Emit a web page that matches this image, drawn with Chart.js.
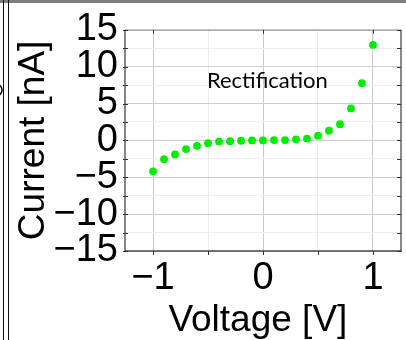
<!DOCTYPE html>
<html>
<head>
<meta charset="utf-8">
<script src="https://cdn.jsdelivr.net/npm/chart.js@4/dist/chart.umd.min.js"></script>
<style>
  html, body { margin: 0; padding: 0; background: #ffffff; }
  #wrap { width: 406px; height: 340px; position: relative; }
</style>
</head>
<body>
<div id="wrap"><canvas id="c" width="406" height="340"></canvas></div>
<script>
// ---- data ----
const voltage = [-1.0, -0.9, -0.8, -0.7, -0.6, -0.5, -0.4, -0.3, -0.2, -0.1, 0.0,
                 0.1, 0.2, 0.3, 0.4, 0.5, 0.6, 0.7, 0.8, 0.9, 1.0];
const current = [-4.2, -2.55, -1.9, -1.18, -0.73, -0.38, -0.16, -0.1, -0.05, 0, 0,
                 0.05, 0.05, 0.15, 0.25, 0.64, 1.32, 2.2, 4.33, 7.75, 12.95];
const xTickLabels = [-1, 0, 1];
const yTickLabels = [-15, -10, -5, 0, 5, 10, 15];
const annotationText = 'Rectification';
const xTitle = 'Voltage [V]';
const yTitle = 'Current [nA]';

const fmt = v => (v < 0 ? '\u2212' + Math.abs(v) : String(v));
const tickFont = { family: '"Liberation Sans", Arial, sans-serif', size: 38, lineHeight: 1.2 };
const titleFont = { family: '"Liberation Sans", Arial, sans-serif', size: 37, lineHeight: 1 };

// frame, tick marks, annotation and page decorations
const decor = {
  id: 'decor',
  beforeDraw(chart) {
    const ctx = chart.ctx;
    ctx.save();
    ctx.fillStyle = '#ffffff';
    ctx.fillRect(0, 0, chart.width, chart.height);
    ctx.restore();
  },
  afterDatasetsDraw(chart) {
    const ctx = chart.ctx;
    const a = chart.chartArea;
    const xs = chart.scales.x, ys = chart.scales.y;
    ctx.save();
    // frame top & right (light)
    ctx.strokeStyle = '#9a9a9a';
    ctx.lineWidth = 1;
    ctx.beginPath();
    ctx.moveTo(a.left, a.top + 0.5); ctx.lineTo(a.right, a.top + 0.5);
    ctx.stroke();
    ctx.lineWidth = 2;
    ctx.strokeStyle = '#8a8a8a';
    ctx.beginPath();
    ctx.moveTo(a.right, a.top); ctx.lineTo(a.right, a.bottom);
    ctx.stroke();
    // bottom & left axis (dark)
    ctx.strokeStyle = '#4a4a4a';
    ctx.lineWidth = 1.6;
    ctx.beginPath();
    ctx.moveTo(a.left, a.bottom); ctx.lineTo(a.right + 1, a.bottom);
    ctx.stroke();
    ctx.strokeStyle = '#333333';
    ctx.lineWidth = 1.2;
    ctx.beginPath();
    ctx.moveTo(a.left, a.top); ctx.lineTo(a.left, a.bottom);
    ctx.stroke();
    // x ticks
    ctx.strokeStyle = '#333333';
    ctx.lineWidth = 1;
    xs.ticks.forEach(t => {
      const px = Math.round(xs.getPixelForValue(t.value)) + 0.5;
      ctx.beginPath();
      ctx.moveTo(px, a.bottom); ctx.lineTo(px, a.bottom + 4);
      ctx.stroke();
      if (Number.isInteger(t.value)) {
        ctx.beginPath();
        ctx.moveTo(px, a.top); ctx.lineTo(px, a.top + 4);
        ctx.stroke();
      }
    });
    // y ticks
    ys.ticks.forEach(t => {
      const py = Math.round(ys.getPixelForValue(t.value)) + 0.5;
      ctx.beginPath();
      ctx.moveTo(a.left - 2, py); ctx.lineTo(a.left + 3, py);
      ctx.stroke();
      ctx.beginPath();
      ctx.moveTo(a.right - 4, py); ctx.lineTo(a.right, py);
      ctx.stroke();
    });
    // annotation
    ctx.fillStyle = '#000000';
    ctx.font = '22px Lato, "Open Sans", sans-serif';
    ctx.textAlign = 'center';
    ctx.textBaseline = 'alphabetic';
    ctx.fillText(annotationText, xs.getPixelForValue(0.04), ys.getPixelForValue(7.05));
    // page decorations (frame of the surrounding figure)
    ctx.fillStyle = '#7d7d7d';
    ctx.fillRect(0, 0, chart.width, 3);
    ctx.strokeStyle = '#111111';
    ctx.lineWidth = 1;
    ctx.beginPath();
    ctx.moveTo(3.5, 0); ctx.lineTo(3.5, chart.height);
    ctx.moveTo(8.5, 0); ctx.lineTo(8.5, chart.height);
    ctx.stroke();
    ctx.lineWidth = 1.6;
    ctx.beginPath();
    ctx.arc(-4, 90, 6, -Math.PI / 2.6, Math.PI / 2.6);
    ctx.stroke();
    ctx.restore();
  }
};

new Chart(document.getElementById('c'), {
  type: 'scatter',
  data: {
    datasets: [{
      data: voltage.map((v, i) => ({ x: v, y: current[i] })),
      backgroundColor: '#00ee00',
      borderWidth: 0,
      pointRadius: 3.9,
      pointHoverRadius: 3.9
    }]
  },
  options: {
    responsive: false,
    animation: false,
    devicePixelRatio: 1,
    layout: { padding: { top: 29, right: 5, left: 0, bottom: 0 } },
    plugins: { legend: { display: false }, tooltip: { enabled: false } },
    scales: {
      x: {
        type: 'linear',
        min: -1.255,
        max: 1.255,
        afterFit: s => { s.height = 89; },
        border: { display: false },
        grid: {
          drawTicks: false,
          color: c => (c.tick && Number.isInteger(c.tick.value)) ? '#c8c8c8' : '#ececec',
          lineWidth: 1
        },
        ticks: {
          stepSize: 0.5,
          includeBounds: false,
          autoSkip: false,
          maxRotation: 0,
          padding: 5,
          color: '#000000',
          font: tickFont,
          callback: v => xTickLabels.includes(v) ? fmt(v) : ''
        },
        title: {
          display: true,
          text: xTitle + ' ',
          color: '#000000',
          font: titleFont,
          padding: { top: 0, bottom: 1 }
        }
      },
      y: {
        type: 'linear',
        min: -15,
        max: 15,
        afterFit: s => { s.width = 125; },
        border: { display: false },
        grid: {
          drawTicks: false,
          color: c => (c.tick && c.tick.value % 5 === 0) ? '#cfcfcf' : '#eeeeee',
          lineWidth: 1
        },
        ticks: {
          stepSize: 2.5,
          autoSkip: false,
          padding: 7,
          color: '#000000',
          font: tickFont,
          callback: v => yTickLabels.includes(v) ? fmt(v) : ''
        },
        title: {
          display: true,
          text: yTitle,
          color: '#000000',
          font: titleFont,
          padding: { top: 15.5, bottom: 0 }
        }
      }
    }
  },
  plugins: [decor]
});
</script>
</body>
</html>
